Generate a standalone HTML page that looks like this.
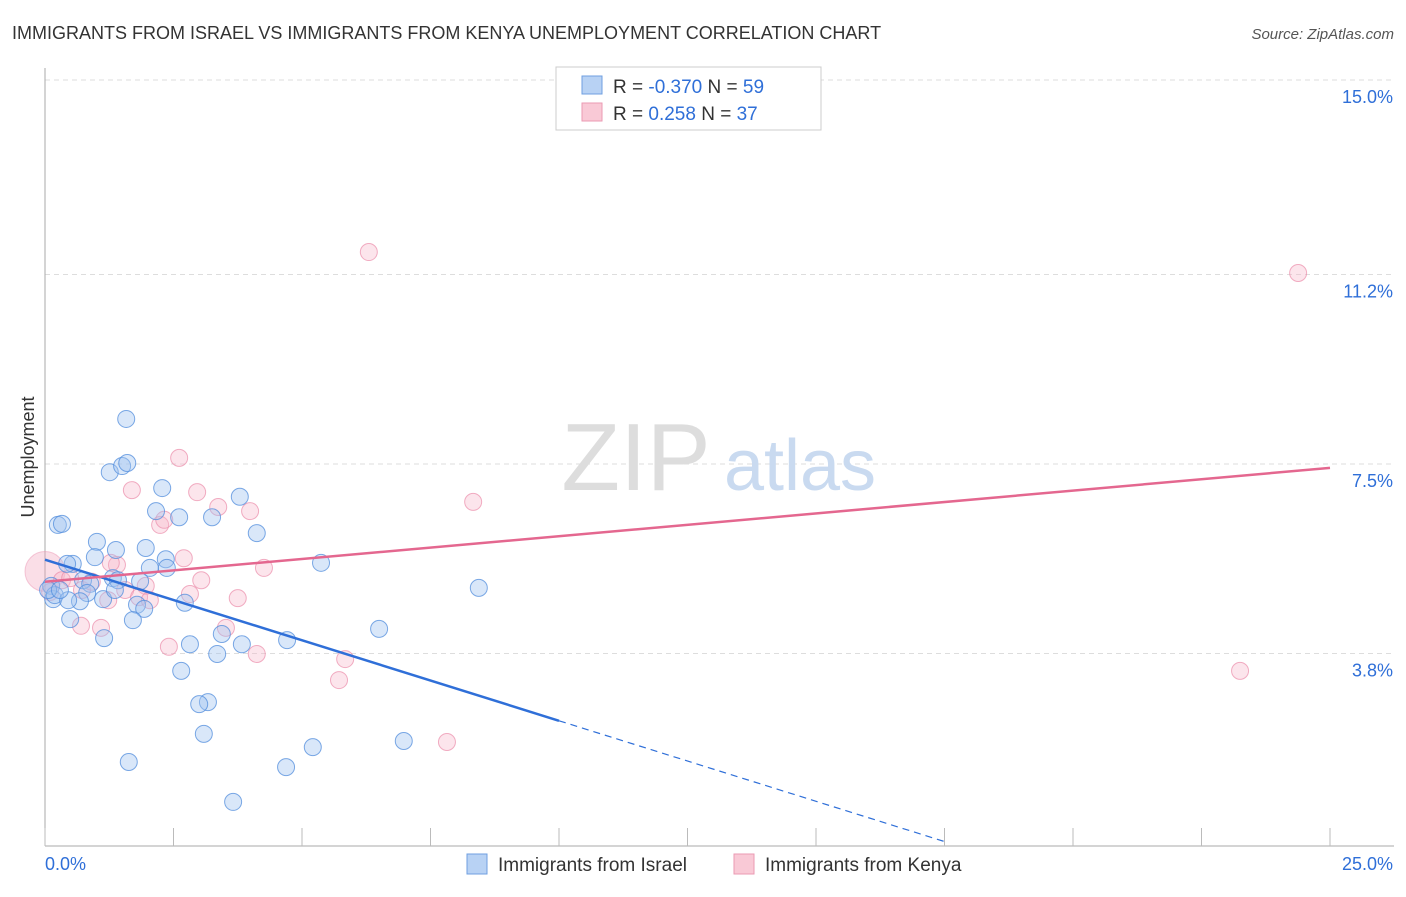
<!DOCTYPE html>
<html><head><meta charset="utf-8"><style>
body{margin:0;background:#fff;font-family:"Liberation Sans",sans-serif;}
svg text{font-family:"Liberation Sans",sans-serif;}
</style></head><body>
<svg width="1406" height="892">
<text x="12" y="39" font-size="18" fill="#333">IMMIGRANTS FROM ISRAEL VS IMMIGRANTS FROM KENYA UNEMPLOYMENT CORRELATION CHART</text>
<text x="1394" y="39" font-size="15" fill="#555" text-anchor="end" font-style="italic">Source: ZipAtlas.com</text>
<text x="0" y="0" transform="translate(34,457) rotate(-90)" font-size="18" fill="#333" text-anchor="middle">Unemployment</text>
<g id="grid"></g>
<text x="636" y="490" font-size="96" fill="#ddd" font-family="Liberation Serif" text-anchor="middle">ZIP</text>
<text x="800" y="490" font-size="72" fill="#c9daf0" text-anchor="middle">atlas</text>
<g id="pts"></g>
<g id="lines"></g>
<rect x="556" y="67" width="265" height="63" fill="#fff" stroke="#ccc"/>
<rect x="582" y="76" width="20" height="18" fill="#b8d2f4" stroke="#6f9fe0"/>
<rect x="582" y="103" width="20" height="18" fill="#f9c9d6" stroke="#eb9ab3"/>
<text x="613" y="93" font-size="19" fill="#333">R = <tspan fill="#2f6fd8">-0.370</tspan>   N = <tspan fill="#2f6fd8">59</tspan></text>
<text x="613" y="120" font-size="19" fill="#333">R =  <tspan fill="#2f6fd8"> 0.258</tspan>   N = <tspan fill="#2f6fd8">37</tspan></text>
<text x="45" y="870" font-size="18" fill="#2f6fd8">0.0%</text>
<text x="1393" y="870" font-size="18" fill="#2f6fd8" text-anchor="end">25.0%</text>
<rect x="467" y="854" width="20" height="20" fill="#b8d2f4" stroke="#6f9fe0"/>
<text x="498" y="871" font-size="19" fill="#333">Immigrants from Israel</text>
<rect x="734" y="854" width="20" height="20" fill="#f9c9d6" stroke="#eb9ab3"/>
<text x="765" y="871" font-size="19" fill="#333">Immigrants from Kenya</text>
</svg>
<script>
const yTicks=[15.0,11.2,7.5,3.8];
const yTickLabels=["15.0%","11.2%","7.5%","3.8%"];
const israelPx=[[126,419],[110,472],[122,466],[127,463],[162,488],[240,497],[156,511],[179,517],[212,517],[257,533],[58,525],[62,524],[97,542],[116,550],[146,548],[166,559],[73,564],[67,564],[95,557],[321,563],[150,568],[167,568],[113,578],[140,581],[118,580],[83,580],[90,584],[51,586],[479,588],[53,599],[87,593],[103,599],[80,601],[55,595],[185,603],[137,605],[144,609],[70,619],[133,620],[104,638],[222,634],[190,644],[287,640],[242,644],[379,629],[217,654],[181,671],[208,702],[199,704],[204,734],[404,741],[313,747],[129,762],[286,767],[233,802],[68,600],[48,590],[115,590],[60,590]];
const kenyaPx=[[369,252],[1298,273],[179,458],[132,490],[197,492],[473,502],[218,507],[250,511],[160,525],[164,520],[184,558],[117,565],[264,568],[111,563],[201,580],[146,586],[125,590],[82,590],[62,580],[92,582],[238,598],[139,597],[190,594],[81,626],[101,628],[226,628],[169,647],[257,654],[345,659],[339,680],[447,742],[1240,671],[70,578],[50,592],[108,600],[150,600]];
// convert picture readings to data values (x %, y %)
const israelX=israelPx.map(p=>+((p[0]-45)/51.4).toFixed(2));
const israelY=israelPx.map(p=>+(15-(p[1]-80)/51.2).toFixed(2));
const kenyaX=kenyaPx.map(p=>+((p[0]-45)/51.4).toFixed(2));
const kenyaY=kenyaPx.map(p=>+(15-(p[1]-80)/51.2).toFixed(2));
const israelTrend=[5.63,-0.3145];
const kenyaTrend=[5.2,0.089];
const X=v=>45+v*51.4, Y=v=>80+(15-v)*51.2;
const NS="http://www.w3.org/2000/svg";
function mk(t,a,p){const e=document.createElementNS(NS,t);for(const k in a)e.setAttribute(k,a[k]);p.appendChild(e);return e;}
const g=document.getElementById('grid');
yTicks.forEach((t,i)=>{
 const l=mk('line',{x1:45,x2:1394,y1:Y(t),y2:Y(t),stroke:'#ddd','stroke-dasharray':'5,4'},g);
 
 
 const tx=mk('text',{x:1393,y:Y(t)+23,'font-size':18,fill:'#2f6fd8','text-anchor':'end'},g);
 tx.textContent=yTickLabels[i];
 
 
});
const ax=mk('line',{x1:45,x2:45,y1:68,y2:846,stroke:'#aaa'},g);


const bx=mk('line',{x1:45,x2:1394,y1:846,y2:846,stroke:'#aaa'},g);


for(let i=0;i<=10;i++){const t=mk('line',{x1:X(i*2.5),x2:X(i*2.5),y1:828,y2:846,stroke:'#bbb'},g);
 
 }
const P=document.getElementById('pts');
const big=mk('circle',{cx:X(0),cy:Y(5.4),r:20,fill:'rgba(240,160,185,0.35)',stroke:'rgba(235,150,180,0.5)'},P);


kenyaX.forEach((x,i)=>{const c=mk('circle',{cx:X(x),cy:Y(kenyaY[i]),r:8.5,fill:'rgba(246,180,200,0.35)',stroke:'rgba(235,140,170,0.7)'},P);
 
 });
israelX.forEach((x,i)=>{const c=mk('circle',{cx:X(x),cy:Y(israelY[i]),r:8.5,fill:'rgba(160,195,240,0.4)',stroke:'rgba(80,140,220,0.75)'},P);
 
 });
const L=document.getElementById('lines');
const f=(t,x)=>t[0]+t[1]*x;
const b1=mk('line',{x1:X(0),y1:Y(f(israelTrend,0)),x2:X(10),y2:Y(f(israelTrend,10)),stroke:'#2f6fd8','stroke-width':2.5},L);


const b2=mk('line',{x1:X(10),y1:Y(f(israelTrend,10)),x2:X(17.5),y2:Y(f(israelTrend,17.5)),stroke:'#2f6fd8','stroke-width':1.2,'stroke-dasharray':'7,5'},L);


const k1=mk('line',{x1:X(0),y1:Y(f(kenyaTrend,0)),x2:X(25),y2:Y(f(kenyaTrend,25)),stroke:'#e4678f','stroke-width':2.5},L);


</script>
</body></html>
